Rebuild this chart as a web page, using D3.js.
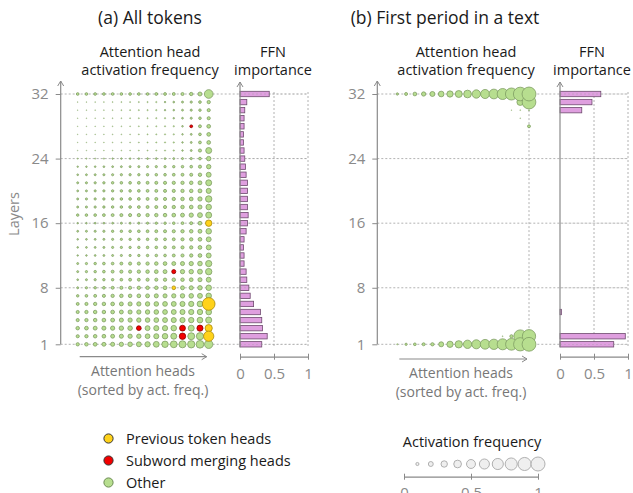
<!DOCTYPE html>
<html><head><meta charset="utf-8">
<script src="https://cdn.jsdelivr.net/npm/d3@7"></script>
<style>body{margin:0;background:#fff;} svg text{font-family:"Open Sans",sans-serif;}</style>
</head><body>
<svg id="c" width="633" height="493"></svg>
<script>
// ---------------- data ----------------
const layers = d3.range(1, 33);
const heads = d3.range(1, 17);
const layerTicks = [1, 8, 16, 24, 32];
const ffnTicks = [0, 0.5, 1];
const legendFreqs = [0.1, 0.2, 0.3, 0.4, 0.5, 0.6, 0.7, 0.8, 0.9, 1.0];
const legendTicks = [0, 0.5, 1];
const panelTitles = ["(a) All tokens", "(b) First period in a text"];
const legendItems = ["Previous token heads", "Subword merging heads", "Other"];

// activation frequency per layer (row = layer 1..32), heads sorted by frequency
const allTokensFreq = [
 [0.11,0.12,0.13,0.14,0.15,0.16,0.18,0.2,0.22,0.26,0.3,0.33,0.35,0.37,0.4,0.45],
 [0.1,0.11,0.12,0.13,0.14,0.15,0.16,0.17,0.19,0.21,0.24,0.27,0.3,0.34,0.36,0.62],
 [0.12,0.13,0.14,0.15,0.16,0.17,0.18,0.19,0.2,0.21,0.22,0.24,0.26,0.27,0.28,0.36],
 [0.1,0.11,0.12,0.13,0.14,0.15,0.16,0.17,0.18,0.19,0.2,0.21,0.22,0.23,0.25,0.28],
 [0.1,0.11,0.12,0.12,0.13,0.14,0.15,0.16,0.17,0.18,0.19,0.2,0.21,0.22,0.23,0.25],
 [0.09,0.1,0.11,0.12,0.13,0.14,0.15,0.16,0.17,0.18,0.19,0.2,0.21,0.22,0.25,0.86],
 [0.07,0.08,0.09,0.1,0.11,0.12,0.12,0.13,0.14,0.15,0.15,0.16,0.17,0.18,0.2,0.24],
 [0.05,0.06,0.07,0.08,0.09,0.1,0.1,0.11,0.12,0.12,0.13,0.13,0.14,0.15,0.17,0.24],
 [0.04,0.05,0.06,0.07,0.07,0.08,0.09,0.09,0.1,0.1,0.11,0.12,0.12,0.13,0.15,0.2],
 [0.05,0.06,0.07,0.08,0.09,0.1,0.1,0.11,0.12,0.13,0.14,0.15,0.16,0.17,0.2,0.3],
 [0.05,0.06,0.07,0.08,0.08,0.09,0.1,0.1,0.11,0.12,0.13,0.14,0.15,0.16,0.18,0.29],
 [0.03,0.035,0.04,0.045,0.05,0.055,0.06,0.065,0.07,0.075,0.08,0.09,0.1,0.11,0.13,0.2],
 [0.035,0.04,0.045,0.05,0.055,0.06,0.065,0.07,0.075,0.08,0.085,0.09,0.1,0.11,0.13,0.2],
 [0.035,0.04,0.045,0.05,0.055,0.06,0.065,0.07,0.075,0.08,0.085,0.09,0.1,0.11,0.13,0.2],
 [0.045,0.05,0.055,0.06,0.065,0.07,0.075,0.08,0.085,0.09,0.095,0.1,0.11,0.12,0.14,0.24],
 [0.03,0.035,0.04,0.04,0.045,0.05,0.05,0.055,0.06,0.065,0.07,0.075,0.08,0.09,0.13,0.3],
 [0.07,0.075,0.08,0.085,0.09,0.095,0.1,0.105,0.11,0.115,0.12,0.13,0.14,0.16,0.2,0.27],
 [0.05,0.055,0.06,0.065,0.07,0.075,0.08,0.085,0.09,0.095,0.1,0.11,0.12,0.13,0.15,0.24],
 [0.05,0.055,0.06,0.065,0.07,0.075,0.08,0.085,0.09,0.095,0.1,0.11,0.12,0.13,0.16,0.3],
 [0.045,0.05,0.055,0.06,0.065,0.07,0.075,0.08,0.085,0.09,0.095,0.1,0.11,0.12,0.14,0.21],
 [0.05,0.055,0.06,0.065,0.07,0.075,0.08,0.085,0.09,0.095,0.1,0.105,0.11,0.12,0.14,0.27],
 [0.04,0.045,0.05,0.053,0.056,0.06,0.063,0.066,0.07,0.074,0.078,0.082,0.088,0.095,0.115,0.2],
 [0.03,0.033,0.036,0.04,0.043,0.046,0.05,0.053,0.056,0.06,0.064,0.068,0.074,0.08,0.1,0.17],
 [0.022,0.024,0.026,0.028,0.03,0.032,0.034,0.036,0.038,0.04,0.043,0.046,0.05,0.06,0.08,0.17],
 [0.01,0.011,0.012,0.013,0.014,0.015,0.016,0.018,0.02,0.022,0.025,0.028,0.032,0.045,0.1,0.27],
 [0.01,0.011,0.012,0.013,0.014,0.015,0.016,0.018,0.02,0.022,0.025,0.028,0.032,0.045,0.085,0.13],
 [0.01,0.011,0.012,0.013,0.014,0.015,0.016,0.018,0.02,0.022,0.025,0.028,0.032,0.045,0.08,0.13],
 [0.01,0.011,0.012,0.013,0.014,0.015,0.016,0.018,0.02,0.022,0.025,0.028,0.035,0.085,0.09,0.13],
 [0.01,0.011,0.012,0.014,0.015,0.016,0.018,0.02,0.022,0.025,0.028,0.032,0.04,0.055,0.075,0.1],
 [0.01,0.012,0.013,0.015,0.016,0.018,0.02,0.022,0.025,0.028,0.03,0.035,0.045,0.055,0.07,0.1],
 [0.012,0.012,0.014,0.015,0.016,0.018,0.02,0.022,0.025,0.028,0.03,0.04,0.05,0.06,0.08,0.11],
 [0.08,0.08,0.08,0.08,0.08,0.08,0.08,0.08,0.08,0.085,0.085,0.09,0.095,0.11,0.145,0.48]
];
const Z = [0,0,0,0,0,0,0,0,0,0,0,0,0,0,0,0];
const firstPeriodFreq = [
 [0.026,0.062,0.08,0.093,0.108,0.205,0.29,0.37,0.45,0.51,0.57,0.62,0.69,0.76,0.92,0.98],
 [0,0,0,0,0,0,0,0,0,0,0,0,0.015,0.1,0.86,0.92],
 Z,Z,Z,Z,Z,Z,Z,Z,Z,Z,Z,Z,Z,Z,Z,Z,Z,Z,Z,Z,Z,Z,Z,Z,Z,
 [0,0,0,0,0,0,0,0,0,0,0,0,0,0,0,0.09],
 [0,0,0,0,0,0,0,0,0,0,0,0,0,0,0.012,0],
 [0,0,0,0,0,0,0,0,0,0,0,0,0,0.01,0.015,0.02],
 [0,0,0,0,0,0,0,0,0,0,0,0,0,0,0.32,0.97],
 [0.062,0.093,0.13,0.16,0.205,0.25,0.29,0.34,0.4,0.45,0.51,0.57,0.69,0.79,0.96,0.99]
];
// FFN importance per layer 1..32
const ffnAllTokens = [0.32,0.40,0.33,0.32,0.30,0.20,0.15,0.13,0.10,0.09,0.06,0.06,0.05,0.06,0.09,0.11,
                      0.12,0.11,0.11,0.11,0.11,0.09,0.08,0.07,0.06,0.05,0.05,0.06,0.06,0.07,0.10,0.43];
const ffnFirstPeriod = [0.79,0.96,0,0,0.02,0,0,0,0,0,0,0,0,0,0,0,
                        0,0,0,0,0,0,0,0,0,0,0,0,0,0.32,0.47,0.60];
// special heads in panel (a): [layer, sorted head position]
const prevTokenHeads = [[2,16],[3,16],[6,16],[8,12],[16,16]];
const subwordHeads = [[2,13],[3,8],[3,13],[3,15],[10,12],[28,14]];

// ---------------- styles ----------------
const COL = {
  prev: {fill:"#ffd21a", stroke:"#a88a10"},
  sub: {fill:"#f20000", stroke:"#8a0000"},
  other: {fill:"#b7de8f", stroke:"#7f9d63"}
};
const gridCol = "#a0a0a0", axisCol = "#8a8a8a", tickTextCol = "#8a8a8a";

const svg = d3.select("#c");
const rScale = d3.scalePow().exponent(0.65).domain([0, 1]).range([0, 7]);
const y = d3.scaleLinear().domain([1, 32]).range([344.3, 94]);

function typeOf(panel, L, h) {
  if (panel !== 0) return "other";
  if (prevTokenHeads.some(d => d[0] === L && d[1] === h)) return "prev";
  if (subwordHeads.some(d => d[0] === L && d[1] === h)) return "sub";
  return "other";
}

const panels = [
  {freq: allTokensFreq, ffn: ffnAllTokens, axisX: 60.7, cols: [77.7, 208.7], ffnR: [240, 308],
   title: 150, headTitle: 150, ffnTitle: 273, headLbl: 143, vline: false},
  {freq: firstPeriodFreq, ffn: ffnFirstPeriod, axisX: 377.3, cols: [397.3, 529], ffnR: [560, 628],
   title: 445, headTitle: 466, ffnTitle: 592, headLbl: 461, vline: true}
];

function arrowUp(g, x, yTop) {
  g.append("path").attr("d", `M${x-3},${yTop+5}L${x},${yTop}L${x+3},${yTop+5}`)
    .attr("fill", "none").attr("stroke", axisCol).attr("stroke-width", 1);
}
function twoLines(g, x, y0, dy, lines, size, fill) {
  const t = g.append("text").attr("x", x).attr("y", y0).attr("text-anchor", "middle")
    .attr("font-size", size).attr("fill", fill);
  lines.forEach((s, i) => t.append("tspan").attr("x", x).attr("dy", i === 0 ? 0 : dy).text(s));
}

panels.forEach((p, pi) => {
  const g = svg.append("g");
  const x = d3.scalePoint().domain(heads).range(p.cols);
  const xf = d3.scaleLinear().domain([0, 1]).range(p.ffnR);

  // titles
  g.append("text").attr("x", p.title).attr("y", 24).attr("text-anchor", "middle")
    .attr("font-size", 17.5).attr("fill", "#1a1a1a").text(panelTitles[pi]);
  twoLines(g, p.headTitle, 57, 18, ["Attention head", "activation frequency"], 14.5, "#1a1a1a");
  twoLines(g, p.ffnTitle, 57, 18, ["FFN", "importance"], 14.5, "#1a1a1a");

  // horizontal grid lines
  g.selectAll("line.hg").data(layerTicks).join("line")
    .attr("x1", p.axisX).attr("x2", p.ffnR[1])
    .attr("y1", d => y(d)).attr("y2", d => y(d))
    .attr("stroke", gridCol).attr("stroke-width", 0.8).attr("stroke-dasharray", "2,2");
  // vertical ffn grid lines
  g.selectAll("line.vg").data([0.5, 1]).join("line")
    .attr("x1", d => xf(d)).attr("x2", d => xf(d))
    .attr("y1", y(32) - 2).attr("y2", y(1) + 2)
    .attr("stroke", gridCol).attr("stroke-width", 0.8).attr("stroke-dasharray", "2,2");
  if (p.vline) {
    g.append("line").attr("x1", x(16)).attr("x2", x(16)).attr("y1", y(31)).attr("y2", y(2))
      .attr("stroke", gridCol).attr("stroke-width", 0.8).attr("stroke-dasharray", "2,2");
  }

  // y axis
  const ya = g.append("g").attr("transform", `translate(${p.axisX},0)`)
    .call(d3.axisLeft(y).tickValues(layerTicks).tickFormat(d3.format("d")).tickSize(5).tickSizeOuter(0).tickPadding(7));
  ya.select(".domain").remove();
  ya.selectAll(".tick line").attr("stroke", axisCol);
  ya.selectAll(".tick text").attr("font-size", 15).attr("fill", tickTextCol)
    .style("font-family", "'Open Sans',sans-serif");
  g.append("line").attr("x1", p.axisX).attr("x2", p.axisX).attr("y1", 81).attr("y2", y(1))
    .attr("stroke", axisCol).attr("stroke-width", 1.2);
  arrowUp(g, p.axisX, 81);

  // circles
  const pts = [];
  layers.forEach((L, li) => heads.forEach((h, hi) => {
    const v = p.freq[li][hi];
    if (v > 0) pts.push({L, h, v, t: typeOf(pi, L, h)});
  }));
  pts.sort((a, b) => a.v - b.v);
  g.selectAll("circle.dot").data(pts).join("circle")
    .attr("cx", d => x(d.h)).attr("cy", d => y(d.L)).attr("r", d => rScale(d.v))
    .attr("fill", d => COL[d.t].fill).attr("stroke", d => COL[d.t].stroke)
    .attr("stroke-width", d => d.v < 0.03 ? 0.5 : 0.8);

  // heads arrow
  const ay = pi === 0 ? 356.7 : 359;
  g.append("line").attr("x1", x(1) + 2).attr("x2", x(16) - 2).attr("y1", ay).attr("y2", ay)
    .attr("stroke", axisCol).attr("stroke-width", 1.2);
  g.append("path").attr("d", `M${x(16)-7},${ay-3}L${x(16)-2},${ay}L${x(16)-7},${ay+3}`)
    .attr("fill", "none").attr("stroke", axisCol);
  twoLines(g, p.headLbl, ay + 19, 19, ["Attention heads", "(sorted by act. freq.)"], 14, "#777");

  // FFN bars
  const bh = 5.4;
  g.selectAll("rect.bar").data(layers.filter((L, i) => p.ffn[i] > 0)).join("rect")
    .attr("x", xf(0)).attr("y", L => y(L) - bh / 2)
    .attr("width", L => xf(p.ffn[L - 1]) - xf(0)).attr("height", bh)
    .attr("fill", "#df9fdf").attr("stroke", "#6e4a6e").attr("stroke-width", 0.8);
  // redraw grid over bars lightly
  g.selectAll("line.hg2").data(layerTicks).join("line")
    .attr("x1", xf(0)).attr("x2", p.ffnR[1])
    .attr("y1", d => y(d)).attr("y2", d => y(d))
    .attr("stroke", gridCol).attr("stroke-width", 0.6).attr("stroke-dasharray", "2,2").attr("opacity", 0.6);

  // FFN vertical axis
  g.append("line").attr("x1", xf(0)).attr("x2", xf(0)).attr("y1", 82).attr("y2", y(1) + 3)
    .attr("stroke", axisCol).attr("stroke-width", 1.2);
  arrowUp(g, xf(0), 82);
  // FFN bottom axis
  const fa = g.append("g").attr("transform", `translate(0,${356.7})`)
    .call(d3.axisBottom(xf).tickValues(ffnTicks).tickFormat(d => d === 0.5 ? "0.5" : d3.format("d")(d)).tickSize(3).tickPadding(9).tickSizeOuter(0));
  fa.select(".domain").attr("stroke", axisCol).attr("stroke-width", 1.2);
  fa.selectAll(".tick line").attr("y1", -3).attr("y2", 3).attr("stroke", axisCol);
  fa.selectAll(".tick text").attr("font-size", 15).attr("fill", tickTextCol)
    .style("font-family", "'Open Sans',sans-serif");
});

// Layers label
svg.append("text").attr("transform", "translate(19,214) rotate(-90)").attr("text-anchor", "middle")
  .attr("font-size", 14.5).attr("fill", "#8a8a8a").text("Layers");

// type legend
const lt = ["prev", "sub", "other"];
const lg = svg.append("g");
legendItems.forEach((t, i) => {
  const cy = 438.5 + i * 22;
  lg.append("circle").attr("cx", 108.5).attr("cy", cy).attr("r", 4.6)
    .attr("fill", COL[lt[i]].fill).attr("stroke", i === 2 ? "#6a8a50" : "#333").attr("stroke-width", 1);
  lg.append("text").attr("x", 126).attr("y", cy + 5).attr("font-size", 14.5).attr("fill", "#1a1a1a").text(t);
});

// size legend
const xl = d3.scaleLinear().domain([0, 1]).range([404, 538]);
const sg = svg.append("g");
sg.append("text").attr("x", 472).attr("y", 447).attr("text-anchor", "middle")
  .attr("font-size", 14.5).attr("fill", "#1a1a1a").text("Activation frequency");
sg.selectAll("circle").data(legendFreqs).join("circle")
  .attr("cx", d => xl(d)).attr("cy", 464).attr("r", d => rScale(d))
  .attr("fill", "#efefef").attr("stroke", "#a8a8a8").attr("stroke-width", 0.9);
const la = sg.append("g").attr("transform", "translate(0,476.7)")
  .call(d3.axisBottom(xl).tickValues(legendTicks).tickFormat(d => d === 0.5 ? "0.5" : d3.format("d")(d)).tickSize(3).tickPadding(8).tickSizeOuter(0));
la.select(".domain").attr("stroke", axisCol).attr("stroke-width", 1.2);
la.selectAll(".tick line").attr("y1", -3).attr("y2", 3).attr("stroke", axisCol);
la.selectAll(".tick text").attr("font-size", 15).attr("fill", tickTextCol)
  .style("font-family", "'Open Sans',sans-serif");
</script>
</body></html>
